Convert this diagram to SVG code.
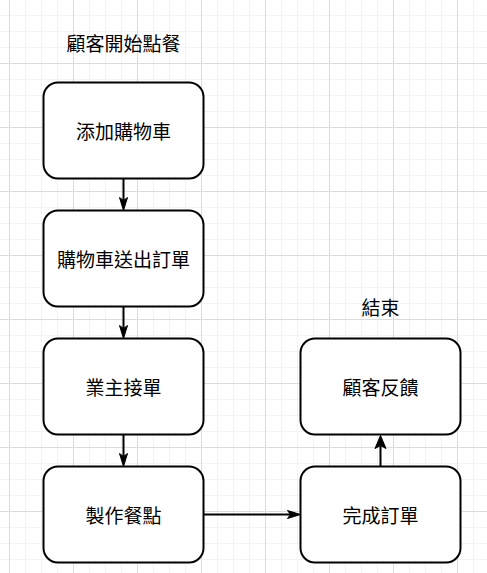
<svg xmlns="http://www.w3.org/2000/svg" width="487" height="573" viewBox="0 0 487 573">
<defs>
<pattern id="minor" patternUnits="userSpaceOnUse" x="9" y="15" width="16" height="16">
<rect x="0" y="0" width="1" height="16" fill="#f3f3f3"/>
<rect x="0" y="0" width="16" height="1" fill="#f3f3f3"/>
</pattern>
<pattern id="major" patternUnits="userSpaceOnUse" x="9" y="15" width="64" height="64">
<rect x="0" y="0" width="1" height="64" fill="#dcdcdc"/>
<rect x="0" y="48" width="64" height="1" fill="#dcdcdc"/>
</pattern>
<marker id="arrow" markerUnits="userSpaceOnUse" viewBox="-14 -6 15 12" markerWidth="15" markerHeight="12" refX="-10" refY="0" orient="auto" overflow="visible">
<path d="M0,0 L-13,-4 L-10,0 L-13,4 Z" fill="#000" stroke="#000" stroke-width="1" stroke-linejoin="miter"/>
</marker>
<marker id="arrowBig" markerUnits="userSpaceOnUse" viewBox="-14 -7 15 14" markerWidth="15" markerHeight="14" refX="-10" refY="0" orient="auto" overflow="visible">
<path d="M0,0 L-13,-5.5 L-10,0 L-13,5.5 Z" fill="#000" stroke="#000" stroke-width="1" stroke-linejoin="miter"/>
</marker>
</defs>
<style>
.box{fill:#fff;stroke:#000;stroke-width:2}
.lbl{font-family:"Microsoft JhengHei","Noto Sans CJK TC",sans-serif;font-size:19px;fill:#000;text-anchor:middle;dominant-baseline:central}
.edge{stroke:#000;stroke-width:2;fill:none}
</style>
<rect width="487" height="573" fill="#fff"/>
<rect width="487" height="573" fill="url(#minor)"/>
<rect width="487" height="573" fill="url(#major)"/>
<g id="connectors">
<line class="edge" x1="123.5" y1="178.5" x2="123.5" y2="200.5" marker-end="url(#arrow)"/>
<line class="edge" x1="123.5" y1="306.5" x2="123.5" y2="328.5" marker-end="url(#arrow)"/>
<line class="edge" x1="123.5" y1="434.5" x2="123.5" y2="456.5" marker-end="url(#arrow)"/>
<line class="edge" x1="203.5" y1="514.5" x2="290.5" y2="514.5" marker-end="url(#arrow)"/>
<line class="edge" x1="380.5" y1="466.5" x2="380.5" y2="445.5" marker-end="url(#arrowBig)"/>
</g>
<g id="title-start"><text class="lbl" x="123.5" y="42">顧客開始點餐</text></g>
<g id="title-end"><text class="lbl" x="380.5" y="306">結束</text></g>
<g id="n1"><rect class="box" x="43.5" y="82.5" width="160" height="96" rx="14.4"/><text class="lbl" x="123.5" y="130">添加購物車</text></g>
<g id="n2"><rect class="box" x="43.5" y="210.5" width="160" height="96" rx="14.4"/><text class="lbl" x="123.5" y="258">購物車送出訂單</text></g>
<g id="n3"><rect class="box" x="43.5" y="338.5" width="160" height="96" rx="14.4"/><text class="lbl" x="123.5" y="386">業主接單</text></g>
<g id="n4"><rect class="box" x="43.5" y="466.5" width="160" height="96" rx="14.4"/><text class="lbl" x="123.5" y="514">製作餐點</text></g>
<g id="n5"><rect class="box" x="300.5" y="466.5" width="160" height="96" rx="14.4"/><text class="lbl" x="380.5" y="514">完成訂單</text></g>
<g id="n6"><rect class="box" x="300.5" y="338.5" width="160" height="96" rx="14.4"/><text class="lbl" x="380.5" y="386">顧客反饋</text></g>
</svg>
